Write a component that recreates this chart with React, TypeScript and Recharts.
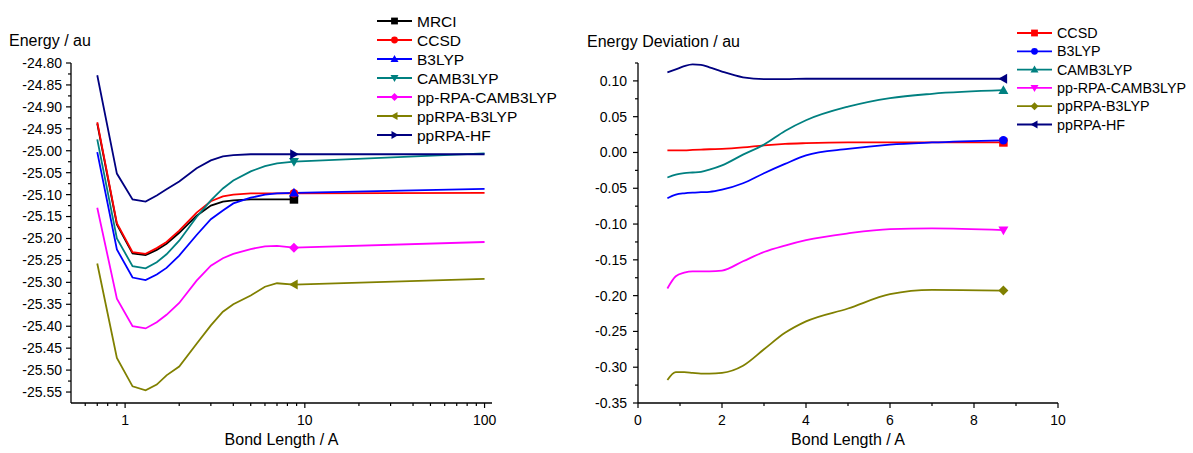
import React from 'react';
import { Line, LineChart, XAxis, YAxis } from 'recharts';

const FONT = '"Liberation Sans", Arial, Helvetica, sans-serif';

// bond lengths (A); left panel goes out to 100 A on a log axis
const bondLeft = [0.7, 0.9, 1.1, 1.3, 1.5, 1.7, 2.0, 2.5, 3.0, 3.5, 4.0, 5.0, 6.0, 7.0, 8.7, 100];
const bondRight = [0.7, 0.9, 1.1, 1.3, 1.5, 1.7, 2.0, 2.5, 3.0, 3.5, 4.0, 5.0, 6.0, 7.0, 8.7];
const MARK_AT = 8.7; // Origin drew a single symbol per curve here

// total energies, au
const eMRCI = [-24.938, -25.168, -25.234, -25.238, -25.226, -25.212, -25.187, -25.148, -25.125, -25.116, -25.113, -25.111, -25.111, -25.111, -25.111];
const eCCSD = [-24.935, -25.165, -25.231, -25.235, -25.222, -25.208, -25.182, -25.141, -25.115, -25.104, -25.1, -25.097, -25.097, -25.097, -25.097, -25.096];
const eB3LYP = [-25.003, -25.225, -25.289, -25.295, -25.282, -25.267, -25.239, -25.192, -25.156, -25.136, -25.12, -25.107, -25.1, -25.097, -25.096, -25.087];
const eCAM = [-24.974, -25.2, -25.263, -25.268, -25.254, -25.236, -25.205, -25.151, -25.113, -25.086, -25.068, -25.047, -25.035, -25.029, -25.025, -25.006];
const ePPCAM = [-25.13, -25.337, -25.4, -25.405, -25.391, -25.374, -25.347, -25.296, -25.262, -25.245, -25.235, -25.224, -25.218, -25.217, -25.221, -25.208];
const ePPB3 = [-25.257, -25.472, -25.537, -25.546, -25.533, -25.512, -25.492, -25.44, -25.398, -25.367, -25.35, -25.33, -25.31, -25.302, -25.305, -25.292];
const ePPHF = [-24.828, -25.052, -25.111, -25.116, -25.102, -25.088, -25.07, -25.04, -25.022, -25.013, -25.01, -25.008, -25.008, -25.008, -25.008, -25.008];

// deviation from MRCI, au
const dCCSD = [0.003, 0.003, 0.003, 0.0035, 0.004, 0.0045, 0.005, 0.007, 0.01, 0.012, 0.013, 0.014, 0.014, 0.014, 0.014];
const dB3LYP = [-0.064, -0.059, -0.057, -0.056, -0.0555, -0.055, -0.052, -0.043, -0.029, -0.016, -0.004, 0.005, 0.011, 0.014, 0.017];
const dCAM = [-0.035, -0.031, -0.029, -0.028, -0.027, -0.024, -0.018, -0.003, 0.011, 0.03, 0.045, 0.064, 0.076, 0.082, 0.087];
const dPPCAM = [-0.19, -0.173, -0.168, -0.166, -0.166, -0.166, -0.165, -0.152, -0.139, -0.13, -0.1225, -0.113, -0.107, -0.106, -0.1085];
const dPPB3 = [-0.318, -0.307, -0.307, -0.308, -0.309, -0.309, -0.308, -0.298, -0.275, -0.252, -0.236, -0.218, -0.198, -0.192, -0.193];
const dPPHF = [0.112, 0.116, 0.1205, 0.123, 0.1225, 0.119, 0.113, 0.105, 0.1025, 0.1025, 0.103, 0.103, 0.103, 0.103, 0.103];

// ticks
const leftXMajor = [1, 10, 100];
const leftXMinor = [0.6, 0.7, 0.8, 0.9, 2, 3, 4, 5, 6, 7, 8, 9, 20, 30, 40, 50, 60, 70, 80, 90];
const leftYMajor = [-25.55, -25.5, -25.45, -25.4, -25.35, -25.3, -25.25, -25.2, -25.15, -25.1, -25.05, -25.0, -24.95, -24.9, -24.85, -24.8];
const leftYMinor = [-25.525, -25.475, -25.425, -25.375, -25.325, -25.275, -25.225, -25.175, -25.125, -25.075, -25.025, -24.975, -24.925, -24.875, -24.825];
const rightXMajor = [0, 2, 4, 6, 8, 10];
const rightXMinor = [1, 3, 5, 7, 9];
const rightYMajor = [-0.35, -0.3, -0.25, -0.2, -0.15, -0.1, -0.05, 0, 0.05, 0.1];
const rightYMinor = [-0.325, -0.275, -0.225, -0.175, -0.125, -0.075, -0.025, 0.025, 0.075, 0.125];

const C = {
  black: '#000000',
  red: '#ff0000',
  blue: '#0000ff',
  teal: '#008080',
  magenta: '#ff00ff',
  olive: '#808000',
  navy: '#000080',
};

type Shape = 'square' | 'circle' | 'up' | 'down' | 'diamond' | 'left' | 'right';
type Series = { name: string; color: string; shape: Shape; values: number[] };

const leftSeries: Series[] = [
  { name: 'MRCI', color: C.black, shape: 'square', values: eMRCI },
  { name: 'CCSD', color: C.red, shape: 'circle', values: eCCSD },
  { name: 'B3LYP', color: C.blue, shape: 'up', values: eB3LYP },
  { name: 'CAMB3LYP', color: C.teal, shape: 'down', values: eCAM },
  { name: 'pp-RPA-CAMB3LYP', color: C.magenta, shape: 'diamond', values: ePPCAM },
  { name: 'ppRPA-B3LYP', color: C.olive, shape: 'left', values: ePPB3 },
  { name: 'ppRPA-HF', color: C.navy, shape: 'right', values: ePPHF },
];

const rightSeries: Series[] = [
  { name: 'CCSD', color: C.red, shape: 'square', values: dCCSD },
  { name: 'B3LYP', color: C.blue, shape: 'circle', values: dB3LYP },
  { name: 'CAMB3LYP', color: C.teal, shape: 'up', values: dCAM },
  { name: 'pp-RPA-CAMB3LYP', color: C.magenta, shape: 'down', values: dPPCAM },
  { name: 'ppRPA-B3LYP', color: C.olive, shape: 'diamond', values: dPPB3 },
  { name: 'ppRPA-HF', color: C.navy, shape: 'left', values: dPPHF },
];

const toPoints = (xs: number[], ys: number[]) => ys.map((y, i) => ({ x: xs[i], y }));

function Marker({ shape, x, y, r, color }: { shape: Shape; x: number; y: number; r: number; color: string }) {
  const k = r * 0.85;
  switch (shape) {
    case 'square':
      return <rect x={x - k} y={y - k} width={2 * k} height={2 * k} fill={color} />;
    case 'circle':
      return <circle cx={x} cy={y} r={k} fill={color} />;
    case 'up':
      return <polygon points={`${x},${y - r} ${x + r},${y + r * 0.75} ${x - r},${y + r * 0.75}`} fill={color} />;
    case 'down':
      return <polygon points={`${x},${y + r} ${x + r},${y - r * 0.75} ${x - r},${y - r * 0.75}`} fill={color} />;
    case 'left':
      return <polygon points={`${x - r},${y} ${x + r * 0.75},${y - r} ${x + r * 0.75},${y + r}`} fill={color} />;
    case 'right':
      return <polygon points={`${x + r},${y} ${x - r * 0.75},${y - r} ${x - r * 0.75},${y + r}`} fill={color} />;
    default:
      return <polygon points={`${x},${y - r} ${x + r},${y} ${x},${y + r} ${x - r},${y}`} fill={color} />;
  }
}

const dotAt = (s: Series) => (p: any) => {
  if (p.payload?.x !== MARK_AT || p.cx == null) return <g key={`d-${p.index}`} />;
  return <Marker key={`d-${p.index}`} shape={s.shape} x={p.cx} y={p.cy} r={5} color={s.color} />;
};

const AXIS = { stroke: '#000', strokeWidth: 1.3 };
const TS = 5;
const TM = 3;

function XTick(props: any) {
  const { x, y, payload, majors } = props;
  const v = payload.value;
  const major = majors.includes(v);
  const ay = y - TS - TM;
  return (
    <g>
      <line x1={x} x2={x} y1={ay} y2={ay + (major ? 5 : 3)} stroke="#000" strokeWidth={1.2} />
      {major && (
        <text x={x} y={ay + 12} dy="0.71em" textAnchor="middle" fontSize={14} fontFamily={FONT} fill="#000">
          {v}
        </text>
      )}
    </g>
  );
}

function YTick(props: any) {
  const { x, y, payload, majors, gap } = props;
  const v = payload.value;
  const major = majors.includes(v);
  const ax = x + TS + TM;
  return (
    <g>
      <line x1={ax - (major ? 5 : 3)} x2={ax} y1={y} y2={y} stroke="#000" strokeWidth={1.2} />
      {major && (
        <text x={ax - gap} y={y} dy="0.35em" textAnchor="end" fontSize={14} fontFamily={FONT} fill="#000">
          {v.toFixed(2)}
        </text>
      )}
    </g>
  );
}

function LegendBox({ series, x, y, step, fontSize }: { series: Series[]; x: number; y: number; step: number; fontSize: number }) {
  return (
    <g>
      {series.map((s, i) => {
        const cy = y + i * step;
        return (
          <g key={s.name}>
            <line x1={x} x2={x + 35} y1={cy} y2={cy} stroke={s.color} strokeWidth={1.8} />
            <Marker shape={s.shape} x={x + 17.5} y={cy} r={4} color={s.color} />
            <text x={x + 40} y={cy} dy="0.36em" fontSize={fontSize} fontFamily={FONT} fill="#000">
              {s.name}
            </text>
          </g>
        );
      })}
    </g>
  );
}

const sorted = (a: number[], b: number[]) => [...a, ...b].sort((p, q) => p - q);

export default function App() {
  return (
    <div style={{ position: 'absolute', left: 0, top: 0, width: 1193, height: 453, background: '#fff' }}>
      <div style={{ position: 'absolute', left: 0, top: 0 }}>
        <LineChart width={560} height={453} margin={{ top: 63, right: 68, bottom: 0, left: 0 }}>
          <XAxis
            type="number"
            dataKey="x"
            scale="log"
            domain={[0.5, 110]}
            allowDataOverflow
            ticks={sorted(leftXMinor, leftXMajor)}
            interval={0}
            height={50}
            tickSize={TS}
            tickMargin={TM}
            tickLine={false}
            axisLine={AXIS}
            tick={(p: any) => <XTick {...p} majors={leftXMajor} />}
          />
          <YAxis
            type="number"
            domain={[-25.575, -24.8]}
            allowDataOverflow
            ticks={sorted(leftYMinor, leftYMajor)}
            interval={0}
            width={71}
            tickSize={TS}
            tickMargin={TM}
            tickLine={false}
            axisLine={AXIS}
            tick={(p: any) => <YTick {...p} majors={leftYMajor} gap={9} />}
          />
          {leftSeries.map((s) => (
            <Line
              key={s.name}
              data={toPoints(bondLeft, s.values)}
              dataKey="y"
              type="linear"
              stroke={s.color}
              strokeWidth={1.8}
              dot={dotAt(s)}
              activeDot={false}
              isAnimationActive={false}
            />
          ))}
        </LineChart>
      </div>

      <div style={{ position: 'absolute', left: 560, top: 0 }}>
        <LineChart width={633} height={453} margin={{ top: 63, right: 135, bottom: 0, left: 0 }}>
          <XAxis
            type="number"
            dataKey="x"
            domain={[0, 10]}
            ticks={sorted(rightXMinor, rightXMajor)}
            interval={0}
            height={50}
            tickSize={TS}
            tickMargin={TM}
            tickLine={false}
            axisLine={AXIS}
            tick={(p: any) => <XTick {...p} majors={rightXMajor} />}
          />
          <YAxis
            type="number"
            domain={[-0.35, 0.125]}
            allowDataOverflow
            ticks={sorted(rightYMinor, rightYMajor)}
            interval={0}
            width={78}
            tickSize={TS}
            tickMargin={TM}
            tickLine={false}
            axisLine={AXIS}
            tick={(p: any) => <YTick {...p} majors={rightYMajor} gap={11} />}
          />
          {rightSeries.map((s) => (
            <Line
              key={s.name}
              data={toPoints(bondRight, s.values)}
              dataKey="y"
              type="monotone"
              stroke={s.color}
              strokeWidth={1.8}
              dot={dotAt(s)}
              activeDot={false}
              isAnimationActive={false}
            />
          ))}
        </LineChart>
      </div>

      {/* titles and legends */}
      <svg width={1193} height={453} style={{ position: 'absolute', left: 0, top: 0, pointerEvents: 'none' }}>
        <g fontFamily={FONT} fontSize={16} fill="#000">
          <text x={9} y={46}>Energy / au</text>
          <text x={587} y={47}>Energy Deviation / au</text>
          <text x={281.5} y={445} textAnchor="middle">Bond Length / A</text>
          <text x={848} y={445} textAnchor="middle">Bond Length / A</text>
        </g>
        <LegendBox series={leftSeries} x={377} y={21} step={19} fontSize={15.5} />
        <LegendBox series={rightSeries} x={1017} y={33} step={18.3} fontSize={14.3} />
      </svg>
    </div>
  );
}
